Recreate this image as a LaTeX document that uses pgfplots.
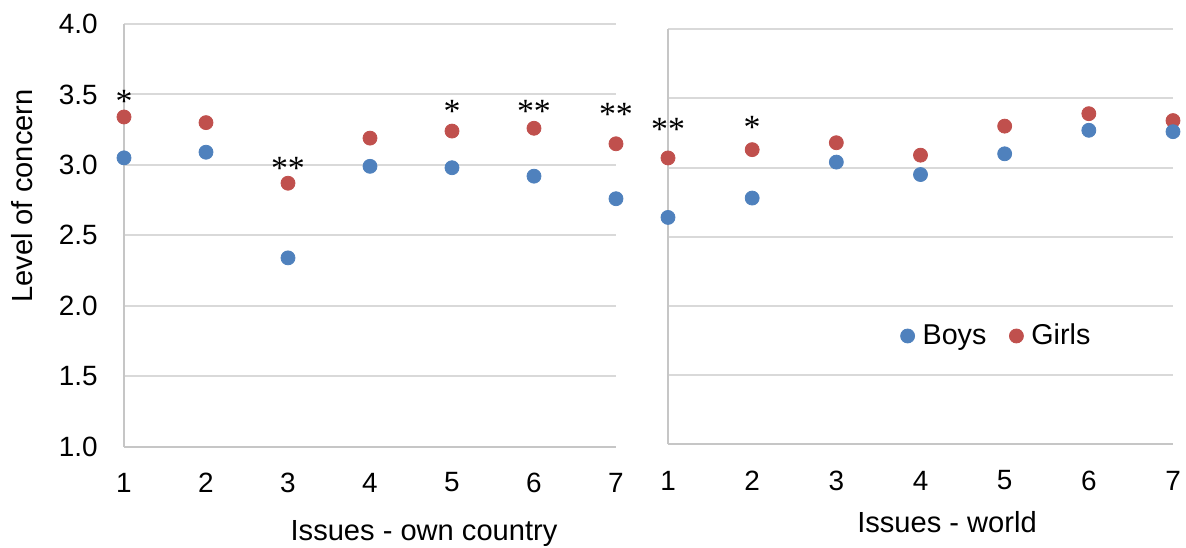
\documentclass[border=0pt]{standalone}
\usepackage{fontspec}
\setmainfont{Liberation Sans}
\newfontfamily\timesfont{Liberation Serif}
\usepackage{pgfplots}
\pgfplotsset{compat=1.18}
\definecolor{boys}{HTML}{4F81BD}
\definecolor{girls}{HTML}{C0504D}
\definecolor{gridc}{HTML}{D9D9D9}
\definecolor{axisc}{HTML}{C6C6C6}

\pgfplotsset{
  panel/.style={
    scale only axis, anchor=south west,
    xmin=1, xmax=7, ymin=1, ymax=4,
    xtick={1,2,3,4,5,6,7}, ytick={1,1.5,2,2.5,3,3.5,4},
    enlargelimits=false, clip=false,
    axis x line=bottom, axis y line=left,
    axis line style={-, draw=axisc, line width=1bp},
    major tick length=0pt,
    ymajorgrids, grid style={draw=gridc, line width=1bp},
    /pgf/number format/assume math mode=true,
    tick label style={font=\fontsize{14}{14}\selectfont, inner sep=0pt},
    yticklabel style={anchor=east, xshift=-13bp, /pgf/number format/.cd, fixed, fixed zerofill, precision=1},
    label style={font=\fontsize{14.6}{14.6}\selectfont},
  },
  girlsmk/.style={only marks, mark=*, mark size=3.5bp, color=girls, fill=girls},
  boysmk/.style={only marks, mark=*, mark size=3.5bp, color=boys, fill=boys},
  stars/.style={draw=none, mark=none, forget plot, nodes near coords, point meta=explicit symbolic,
    every node near coord/.append style={font=\timesfont\fontsize{17}{17}\selectfont, inner sep=0pt, text=black}},
}

\begin{document}
\begin{tikzpicture}
\useasboundingbox (0,0) rectangle (593bp,274bp);

% Left panel: own country
\begin{axis}[panel,
  at={(62bp,50.65bp)}, width=246bp, height=211.35bp,
  xticklabel style={anchor=center, yshift=-17.9bp},
  xlabel={Issues - own country},
  xlabel style={at={(axis description cs:0.6098,0)}, anchor=center, yshift=-43.2bp},
  ylabel={Level of concern},
  ylabel style={at={(axis description cs:-0.2063,0.593)}, anchor=center},
]
\addplot[girlsmk] coordinates {(1,3.34) (2,3.30) (3,2.87) (4,3.19) (5,3.24) (6,3.26) (7,3.15)};
\addplot[boysmk] coordinates {(1,3.05) (2,3.09) (3,2.34) (4,2.99) (5,2.98) (6,2.92) (7,2.76)};
\addplot[stars] table[meta=lab] {
x y lab
1 3.37 *
3 2.895 **
5 3.295 *
6 3.295 **
7 3.28 **
};
\end{axis}

% Right panel: world
\begin{axis}[panel,
  at={(334bp,51.85bp)}, width=252.5bp, height=207.5bp,
  yticklabels={},
  xticklabel style={anchor=center, yshift=-18.1bp},
  xlabel={Issues - world},
  xlabel style={at={(axis description cs:0.5525,0)}, anchor=center, yshift=-38.9bp},
  reverse legend,
  legend columns=2,
  legend style={at={(0.6485,0.261)}, anchor=center, draw=none, fill=none, inner sep=0pt,
    font=\fontsize{14.4}{14.4}\selectfont,
    nodes={inner sep=0pt},
    /tikz/every odd column/.append style={column sep=4bp},
    /tikz/every even column/.append style={column sep=11.5bp}},
  legend image code/.code={\draw[#1] plot coordinates {(3bp,0bp)}; \path (0bp,0bp) (6bp,0bp);},
]
\addplot[girlsmk] coordinates {(1,3.07) (2,3.13) (3,3.18) (4,3.09) (5,3.30) (6,3.39) (7,3.34)};
\addlegendentry{Girls}
\addplot[boysmk] coordinates {(1,2.64) (2,2.78) (3,3.04) (4,2.95) (5,3.10) (6,3.27) (7,3.26)};
\addlegendentry{Boys}
\addplot[stars] table[meta=lab] {
x y lab
1 3.19 **
2 3.205 *
};
\end{axis}
\end{tikzpicture}
\end{document}
